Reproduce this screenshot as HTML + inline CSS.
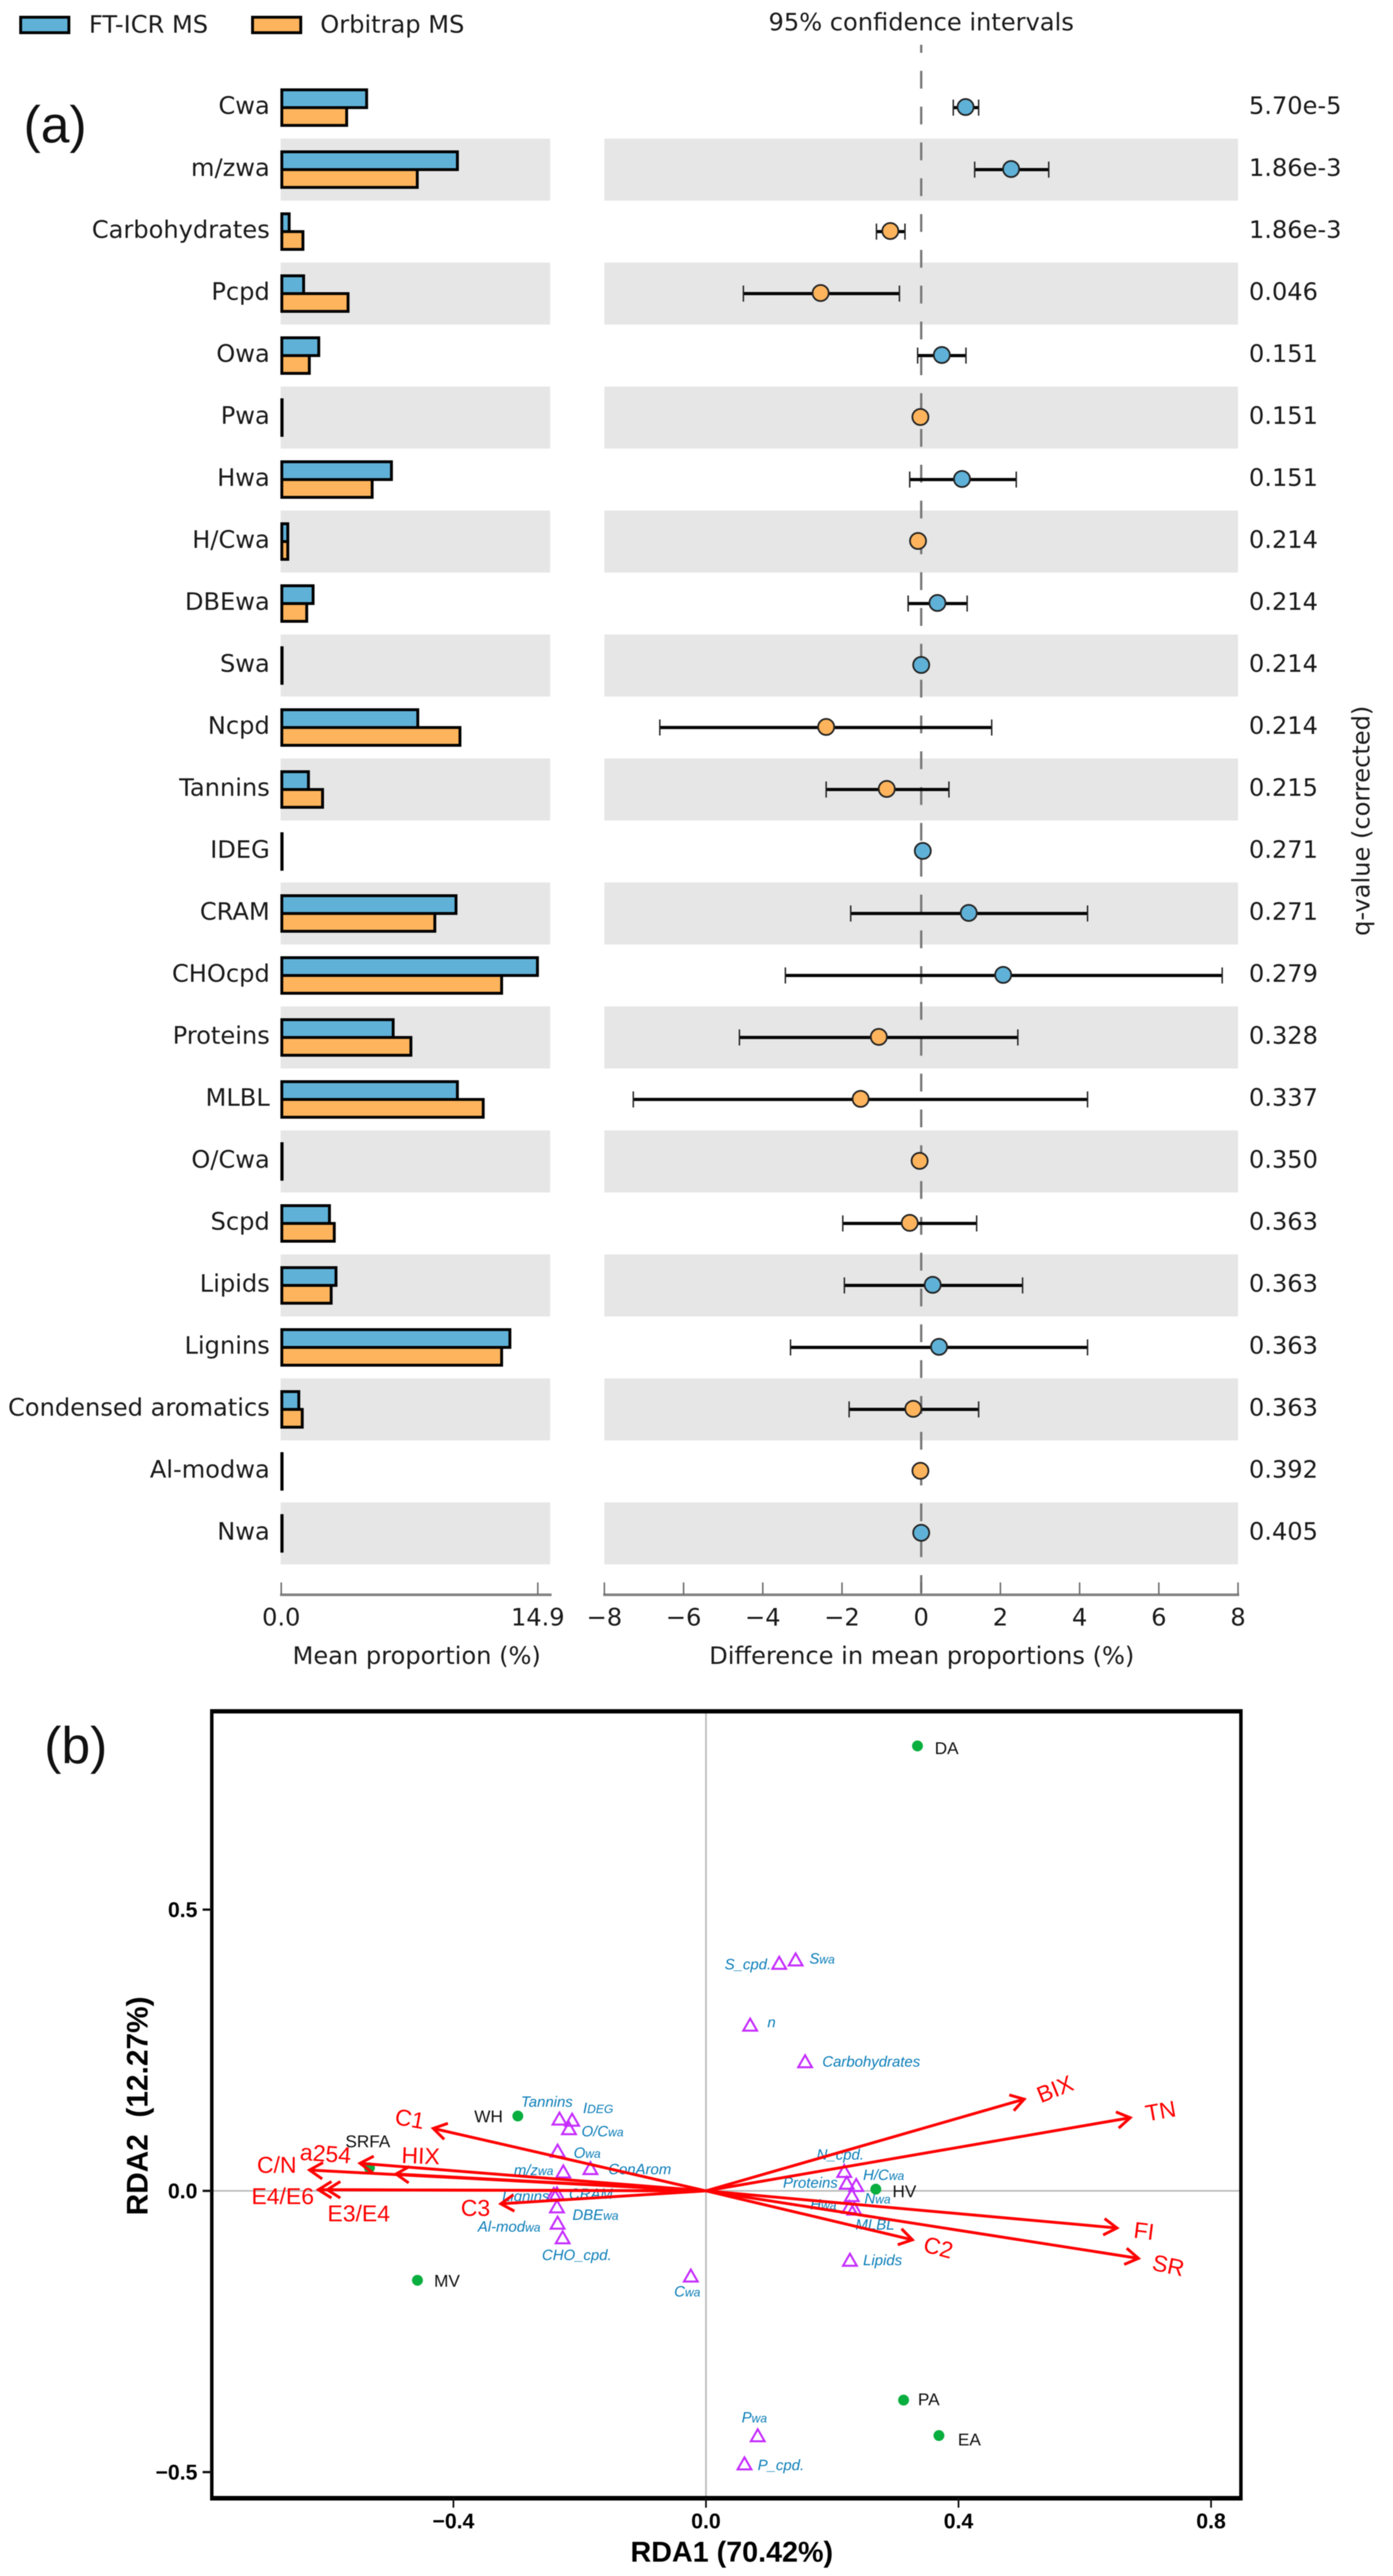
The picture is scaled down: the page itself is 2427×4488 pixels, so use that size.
<!DOCTYPE html>
<html lang="en">
<head>
<meta charset="utf-8">
<title>Mean proportions and RDA ordination</title>
<style>
html,body{margin:0;padding:0;background:#fff;}
#figure{display:block;width:2427px;height:4488px;filter:blur(0.7px);}
.dj{font-family:"DejaVu Sans",sans-serif;font-size:42px;fill:#1a1a1a;}
.ls{font-family:"Liberation Sans",sans-serif;}
.lsb{font-family:"Liberation Sans",sans-serif;font-weight:bold;fill:#000;}
</style>
</head>
<body>
<svg id="figure" xmlns="http://www.w3.org/2000/svg" width="2427" height="4488" viewBox="0 0 2427 4488">
  <rect x="0" y="0" width="2427" height="4488" fill="#fff"/>
  <g id="panelA">
    <text class="ls" x="41" y="248" font-size="90" fill="#111">(a)</text>
    <rect x="36" y="30" width="84" height="27" fill="#5fb1d7" stroke="#000" stroke-width="5"/>
    <text class="dj" x="155" y="57">FT-ICR MS</text>
    <rect x="440" y="30" width="84" height="27" fill="#fdb45c" stroke="#000" stroke-width="5"/>
    <text class="dj" x="558" y="57">Orbitrap MS</text>
    <text class="dj" x="1605" y="53" text-anchor="middle">95% confidence intervals</text>
    <text class="dj" x="726" y="2899" text-anchor="middle">Mean proportion (%)</text>
    <text class="dj" x="1606" y="2899" text-anchor="middle">Difference in mean proportions (%)</text>
    <text class="dj" x="0" y="0" text-anchor="middle" transform="translate(2386 1430) rotate(-90)">q-value (corrected)</text>
  </g>
  <g id="panelB">
    <text class="ls" x="77" y="3072" font-size="90" fill="#111">(b)</text>
    <text class="lsb" x="1275" y="4463" font-size="50" text-anchor="middle">RDA1 (70.42%)</text>
    <text class="lsb" x="0" y="0" font-size="52" text-anchor="middle" xml:space="preserve" transform="translate(257 3669) rotate(-90)">RDA2  (12.27%)</text>
  </g>
</svg>
<script>
/* ---------- Panel (a) data ---------- */
const categories = ['Cwa','m/zwa','Carbohydrates','Pcpd','Owa','Pwa','Hwa','H/Cwa','DBEwa','Swa','Ncpd','Tannins','IDEG','CRAM','CHOcpd','Proteins','MLBL','O/Cwa','Scpd','Lipids','Lignins','Condensed aromatics','Al-modwa','Nwa'];
const ftIcrMean = [4.96,10.23,0.46,1.3,2.18,0.03,6.4,0.38,1.85,0.02,7.93,1.58,0.03,10.15,14.88,6.5,10.23,0.05,2.8,3.18,13.28,1.02,0.03,0.02];
const orbitrapMean = [3.8,7.9,1.26,3.88,1.63,0.03,5.28,0.38,1.48,0.02,10.38,2.4,0.03,8.92,12.8,7.53,11.73,0.05,3.08,2.9,12.8,1.22,0.03,0.02];
const diffMean = [1.12,2.27,-0.78,-2.54,0.52,-0.02,1.03,-0.08,0.41,0,-2.4,-0.87,0.04,1.2,2.07,-1.07,-1.53,-0.04,-0.29,0.29,0.45,-0.2,-0.02,0];
const diffLow = [0.81,1.35,-1.13,-4.49,-0.09,-0.02,-0.29,-0.08,-0.33,0,-6.6,-2.4,0.04,-1.78,-3.43,-4.59,-7.27,-0.04,-1.98,-1.94,-3.3,-1.82,-0.02,0];
const diffHigh = [1.45,3.22,-0.41,-0.55,1.13,-0.02,2.4,-0.08,1.16,0,1.78,0.7,0.04,4.2,7.6,2.44,4.2,-0.04,1.4,2.56,4.2,1.45,-0.02,0];
const qValues = ['5.70e-5','1.86e-3','1.86e-3','0.046','0.151','0.151','0.151','0.214','0.214','0.214','0.214','0.215','0.271','0.271','0.279','0.328','0.337','0.350','0.363','0.363','0.363','0.363','0.392','0.405'];
const barTicks = [0,14.9];
const barTickLabels = ['0.0','14.9'];
const diffTicks = [-8,-6,-4,-2,0,2,4,6,8];
const diffTickLabels = ['\u22128','\u22126','\u22124','\u22122','0','2','4','6','8'];

/* ---------- Panel (b) data ---------- */
const rdaXTicks = [-0.4,0,0.4,0.8];
const rdaXTickLabels = ['\u22120.4','0.0','0.4','0.8'];
const rdaYTicks = [0.5,0,-0.5];
const rdaYTickLabels = ['0.5','0.0','\u22120.5'];
const speciesNames = ['Tannins','I|DEG','O/C|wa','O|wa','ConArom','m/z|wa','CRAM','Lignins','DBE|wa','Al-mod|wa','CHO_cpd.','C|wa','S_cpd.','S|wa','n','Carbohydrates','N_cpd.','Proteins','H/C|wa','N|wa','H|wa','MLBL','Lipids','P|wa','P_cpd.'];
const speciesRda1 = [-0.232,-0.212,-0.217,-0.235,-0.183,-0.226,-0.236,-0.241,-0.236,-0.235,-0.227,-0.024,0.116,0.142,0.070,0.157,0.219,0.223,0.238,0.231,0.227,0.235,0.228,0.082,0.061];
const speciesRda2 = [0.128,0.126,0.111,0.071,0.040,0.034,-0.005,-0.006,-0.028,-0.057,-0.083,-0.151,0.405,0.411,0.295,0.230,0.035,0.014,0.010,-0.008,-0.029,-0.032,-0.123,-0.435,-0.485];
const siteNames = ['DA','HV','WH','SRFA','MV','PA','EA'];
const siteRda1 = [0.335,0.269,-0.298,-0.533,-0.457,0.313,0.369];
const siteRda2 = [0.791,0.003,0.133,0.041,-0.159,-0.372,-0.435];
const envNames = ['C1','a254','C/N','HIX','E4/E6','E3/E4','C3','BIX','TN','FI','SR','C2'];
const envRda1 = [-0.432,-0.548,-0.628,-0.491,-0.614,-0.600,-0.325,0.504,0.672,0.651,0.685,0.327];
const envRda2 = [0.111,0.049,0.037,0.030,0.002,0.002,-0.023,0.163,0.130,-0.066,-0.120,-0.087];

/* ---------- Label placement (styling, offsets from each mark) ---------- */
const speciesLabelDx = [-67,19,22,28,31,-86,21,-90,27,-139,-36,-29,-95,24,30,30,-48,-111,12,22,-68,2,23,-28,23];
const speciesLabelDy = [-30,-21,5,3,1,-3,0,3,14,6,30,27,2,-2,-5,0,-29,-1,-18,5,-5,27,0,-32,2];
const siteLabelDx = [30,29,-76,-42,29,25,33];
const siteLabelDy = [3,3,0,-47,0,-2,6];
const envLabelDx = [-41,-60,-57,43,-62,55,-44,54,53,47,52,45];
const envLabelDy = [-16,-16,-8,-31,12,42,8,-17,-11,6,13,14];
const envLabelTilt = [10,4,0,2,0,0,0,-22,-10,7,12,15];

/* ---------- Axis functions ---------- */
const rowY = i => 187.5 + 108 * i;
const barX = v => 490 + 30 * v;
const diffX = v => 1605 + 69 * v;
const rdaX = v => 1230 + 1100 * v;
const rdaY = v => 3817 - 980 * v;

const NS = 'http://www.w3.org/2000/svg';
const panelA = document.getElementById('panelA');
const panelB = document.getElementById('panelB');

function make(parent, tag, attrs, name) {
  const el = document.createElementNS(NS, tag);
  for (const k in attrs) el.setAttribute(k, attrs[k]);
  
  
  parent.appendChild(el);
  return el;
}
function slug(s) {
  return s.toLowerCase().replace(/[^a-z0-9]+/g, '-').replace(/^-|-$/g, '');
}

/* ---------- Panel (a): bands ---------- */
categories.forEach((c, i) => {
  if (i % 2 === 1) {
    make(panelA, 'rect', {x: 489, y: rowY(i) - 54, width: 469.5, height: 108, fill: '#e6e6e6'}, 'bar-band-' + slug(c));
    make(panelA, 'rect', {x: 1053, y: rowY(i) - 54, width: 1104, height: 108, fill: '#e6e6e6'}, 'ci-band-' + slug(c));
  }
});

/* zero reference line */
make(panelA, 'line', {x1: diffX(0), x2: diffX(0), y1: 78, y2: 2778, stroke: '#777', 'stroke-width': 4, 'stroke-dasharray': '31 31.4', 'stroke-dashoffset': 17}, 'zero-reference-line');

/* ---------- Panel (a): rows ---------- */
categories.forEach((c, i) => {
  const y = rowY(i);
  const s = slug(c);
  const lab = make(panelA, 'text', {class: 'dj', x: 470, y: y + 11, 'text-anchor': 'end'}, 'category-label-' + s);
  lab.textContent = c;
  make(panelA, 'rect', {x: barX(0) + 1, y: y - 31, width: Math.max(barX(ftIcrMean[i]) - barX(0) - 1, 0.5), height: 31, fill: '#5fb1d7', stroke: '#000', 'stroke-width': 5}, 'bar-ft-icr-' + s);
  make(panelA, 'rect', {x: barX(0) + 1, y: y, width: Math.max(barX(orbitrapMean[i]) - barX(0) - 1, 0.5), height: 31, fill: '#fdb45c', stroke: '#000', 'stroke-width': 5}, 'bar-orbitrap-' + s);

  make(panelA, 'line', {x1: diffX(diffLow[i]), x2: diffX(diffHigh[i]), y1: y, y2: y, stroke: '#000', 'stroke-width': 5.5}, 'ci-line-' + s);
  make(panelA, 'line', {x1: diffX(diffLow[i]), x2: diffX(diffLow[i]), y1: y - 14, y2: y + 14, stroke: '#222', 'stroke-width': 2.5}, 'ci-cap-low-' + s);
  make(panelA, 'line', {x1: diffX(diffHigh[i]), x2: diffX(diffHigh[i]), y1: y - 14, y2: y + 14, stroke: '#222', 'stroke-width': 2.5}, 'ci-cap-high-' + s);
  make(panelA, 'circle', {cx: diffX(diffMean[i]), cy: y - 1, r: 14, fill: diffMean[i] >= 0 ? '#5fb1d7' : '#fdb45c', stroke: '#222', 'stroke-width': 3}, 'ci-point-' + s);

  const q = make(panelA, 'text', {class: 'dj', x: 2176, y: y + 11}, 'q-value-' + s);
  q.textContent = qValues[i];
});

/* ---------- Panel (a): axes ---------- */
make(panelA, 'line', {x1: 488, x2: 961, y1: 2778.5, y2: 2778.5, stroke: '#808080', 'stroke-width': 4.5}, 'bar-x-axis-line');
barTicks.forEach((t, i) => {
  make(panelA, 'line', {x1: barX(t), x2: barX(t), y1: 2757, y2: 2778, stroke: '#666', 'stroke-width': 2.5}, 'bar-x-tick');
  const el = make(panelA, 'text', {class: 'dj', x: barX(t), y: 2832, 'text-anchor': 'middle'}, 'bar-x-tick-label');
  el.textContent = barTickLabels[i];
});
make(panelA, 'line', {x1: 1051, x2: 2159, y1: 2778.5, y2: 2778.5, stroke: '#808080', 'stroke-width': 4.5}, 'ci-x-axis-line');
diffTicks.forEach((t, i) => {
  make(panelA, 'line', {x1: diffX(t), x2: diffX(t), y1: 2757, y2: 2778, stroke: '#666', 'stroke-width': 2.5}, 'ci-x-tick');
  const el = make(panelA, 'text', {class: 'dj', x: diffX(t), y: 2832, 'text-anchor': 'middle'}, 'ci-x-tick-label');
  el.textContent = diffTickLabels[i];
});

/* ---------- Panel (b): frame and axes ---------- */
make(panelB, 'line', {x1: rdaX(0), x2: rdaX(0), y1: 2985, y2: 4350, stroke: '#bdbdbd', 'stroke-width': 3}, 'rda-zero-vertical-line');
make(panelB, 'line', {x1: 372, x2: 2160, y1: rdaY(0), y2: rdaY(0), stroke: '#bdbdbd', 'stroke-width': 3}, 'rda-zero-horizontal-line');
make(panelB, 'rect', {x: 369, y: 2982, width: 1793, height: 1370.5, fill: 'none', stroke: '#000', 'stroke-width': 6}, 'rda-plot-frame');
make(panelB, 'line', {x1: 366, x2: 2165, y1: 2981.5, y2: 2981.5, stroke: '#000', 'stroke-width': 7.5}, 'rda-frame-top-edge');
make(panelB, 'line', {x1: 366, x2: 2165, y1: 4352.5, y2: 4352.5, stroke: '#000', 'stroke-width': 8}, 'rda-frame-bottom-edge');
rdaXTicks.forEach((t, i) => {
  make(panelB, 'line', {x1: rdaX(t), x2: rdaX(t), y1: 4352, y2: 4369, stroke: '#111', 'stroke-width': 3}, 'rda-x-tick');
  const el = make(panelB, 'text', {class: 'lsb', x: rdaX(t), y: 4405, 'font-size': 37, 'text-anchor': 'middle'}, 'rda-x-tick-label');
  el.textContent = rdaXTickLabels[i];
});
rdaYTicks.forEach((t, i) => {
  make(panelB, 'line', {x1: 353, x2: 369, y1: rdaY(t), y2: rdaY(t), stroke: '#111', 'stroke-width': 4}, 'rda-y-tick');
  const el = make(panelB, 'text', {class: 'lsb', x: 344, y: rdaY(t) + 13, 'font-size': 37, 'text-anchor': 'end'}, 'rda-y-tick-label');
  el.textContent = rdaYTickLabels[i];
});

/* ---------- Panel (b): species triangles ---------- */
speciesNames.forEach((n, i) => {
  const x = rdaX(speciesRda1[i]);
  const y = rdaY(speciesRda2[i]);
  const parts = n.split('|');
  const s = slug(parts.join(''));
  const pts = [[x, y - 11], [x + 12, y + 10], [x - 12, y + 10]].map(p => p.join(',')).join(' ');
  make(panelB, 'polygon', {points: pts, fill: 'none', stroke: '#c52cff', 'stroke-width': 3.5}, 'species-marker-' + s);
  const t = make(panelB, 'text', {class: 'ls', x: x + speciesLabelDx[i], y: y + speciesLabelDy[i] + 9, 'font-size': 26, 'font-style': 'italic', fill: '#0b7db8'}, 'species-label-' + s);
  t.textContent = parts[0];
  if (parts[1]) {
    const sub = document.createElementNS(NS, 'tspan');
    sub.setAttribute('font-size', 21);
    
    
    sub.textContent = parts[1];
    t.appendChild(sub);
  }
});

/* ---------- Panel (b): sites ---------- */
siteNames.forEach((n, i) => {
  const x = rdaX(siteRda1[i]);
  const y = rdaY(siteRda2[i]);
  make(panelB, 'circle', {cx: x, cy: y, r: 9.5, fill: '#08ae3e'}, 'site-point-' + slug(n));
  const t = make(panelB, 'text', {class: 'ls', x: x + siteLabelDx[i], y: y + siteLabelDy[i] + 11, 'font-size': 30, fill: '#111'}, 'site-label-' + slug(n));
  t.textContent = n;
});

/* ---------- Panel (b): environmental arrows ---------- */
envNames.forEach((n, i) => {
  const x0 = rdaX(0);
  const y0 = rdaY(0);
  const x = rdaX(envRda1[i]);
  const y = rdaY(envRda2[i]);
  const a = Math.atan2(y0 - y, x0 - x);
  const len = 27;
  const spread = 32 * Math.PI / 180;
  const s = slug(n);
  make(panelB, 'line', {x1: x0, y1: y0, x2: x, y2: y, stroke: '#ff0000', 'stroke-width': 5}, 'env-arrow-' + s);
  const d = 'M' + (x + len * Math.cos(a + spread)) + ' ' + (y + len * Math.sin(a + spread)) +
            'L' + x + ' ' + y +
            'L' + (x + len * Math.cos(a - spread)) + ' ' + (y + len * Math.sin(a - spread));
  make(panelB, 'path', {d: d, fill: 'none', stroke: '#ff0000', 'stroke-width': 5}, 'env-arrow-head-' + s);
  const lx = x + envLabelDx[i];
  const ly = y + envLabelDy[i];
  const t = make(panelB, 'text', {class: 'ls', x: lx, y: ly, 'font-size': 40, fill: '#ff0000', 'text-anchor': 'middle', 'dominant-baseline': 'central', transform: 'rotate(' + envLabelTilt[i] + ' ' + lx + ' ' + ly + ')'}, 'env-label-' + s);
  t.textContent = n;
});
</script>
</body>
</html>
